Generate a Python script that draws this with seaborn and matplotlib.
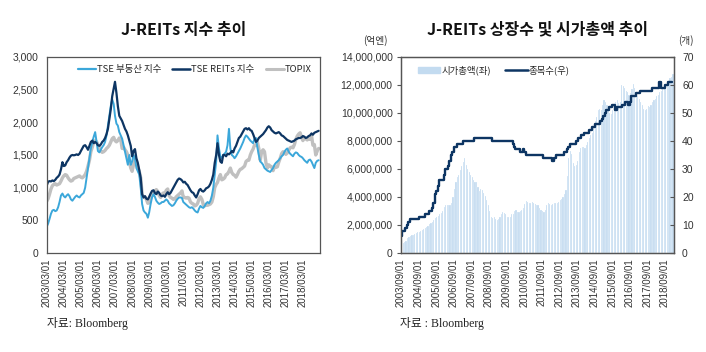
import matplotlib
matplotlib.use("Agg")
from matplotlib import pyplot as plt
import matplotlib.dates as mdates
from matplotlib.ticker import FuncFormatter, MultipleLocator
from matplotlib.lines import Line2D
from matplotlib.patches import Patch
import seaborn as sns
import pandas as pd

# ---- left chart: monthly index levels, 2003/03 - 2019/02 ----
tse_realestate = [
    400, 450, 520, 600, 650, 660, 640, 650, 700, 780,
    880, 910, 870, 850, 880, 900, 870, 820, 800, 830, 860, 880,
    860, 850, 880, 900, 920, 1000, 1150, 1300, 1450, 1600, 1700, 1780,
    1850, 1700, 1560, 1540, 1580, 1620, 1650, 1700, 1800, 1950, 2100, 2250,
    2350, 2280, 2100, 1980, 1950, 1850, 1800, 1750, 1650, 1550, 1450, 1350,
    1500, 1350, 1400, 1500, 1450, 1300, 1250, 1200, 1000, 750, 650, 620,
    600, 540, 620, 750, 850, 900, 860, 800, 770, 750, 760, 780,
    780, 800, 820, 800, 760, 740, 720, 730, 760, 800, 830, 850,
    850, 840, 780, 760, 740, 720, 700, 690, 700, 680, 650, 630,
    620, 680, 720, 700, 690, 720, 760, 780, 760, 800, 880, 1000,
    1200, 1400, 1800, 1600, 1480, 1450, 1500, 1520, 1550, 1650, 1900, 1600,
    1500, 1480, 1450, 1480, 1520, 1560, 1600, 1650, 1700, 1760, 1800, 1780,
    1750, 1720, 1700, 1680, 1750, 1760, 1620, 1500, 1400, 1380, 1350, 1300,
    1280, 1260, 1250, 1240, 1270, 1300, 1350, 1380, 1400, 1420, 1450, 1480,
    1500, 1550, 1580, 1600, 1550, 1520, 1500, 1480, 1520, 1540, 1530, 1500,
    1480, 1470, 1450, 1420, 1400, 1380, 1420, 1430, 1400, 1350, 1300, 1380,
    1410, 1420,
]
tse_reits = [
    1030, 1090, 1100, 1095, 1110, 1100, 1120, 1150, 1170, 1200,
    1280, 1390, 1330, 1340, 1390, 1420, 1460, 1490, 1500, 1495, 1500, 1510,
    1500, 1520, 1560, 1600, 1640, 1650, 1620, 1580, 1640, 1700, 1720, 1680,
    1700, 1680, 1650, 1640, 1660, 1700, 1720, 1760, 1820, 1900, 2050, 2200,
    2400, 2520, 2620, 2450, 2250, 2100, 2060, 2020, 1960, 1900, 1860, 1800,
    1720, 1640, 1480, 1560, 1590, 1450, 1380, 1270, 1150, 900, 850, 870,
    830, 820, 860, 910, 950, 960, 920, 900, 940, 920, 880, 870,
    880, 860, 900, 930, 900, 920, 960, 1000, 1040, 1080, 1120, 1140,
    1130, 1110, 1080, 1090, 1060, 1040, 1000, 960, 930, 920, 880, 850,
    900, 960, 980, 950, 940, 960, 990, 1000, 1020, 1060, 1120, 1200,
    1380, 1500, 1680, 1500, 1400, 1380, 1500, 1500, 1480, 1520, 1510, 1530,
    1560, 1540, 1600, 1640, 1700, 1760, 1780, 1820, 1860, 1900, 1910, 1890,
    1910, 1880, 1870, 1820, 1760, 1700, 1720, 1760, 1780, 1800, 1820, 1850,
    1880, 1920, 1940, 1920, 1880, 1860, 1840, 1830, 1840, 1850, 1830, 1800,
    1790, 1770, 1750, 1730, 1720, 1710, 1700, 1710, 1720, 1740, 1750, 1760,
    1760, 1770, 1790, 1780, 1760, 1770, 1790, 1800, 1830, 1810, 1840, 1850,
    1860, 1870,
]
topix = [
    790, 830, 900, 980, 1030, 1050, 1060, 1040, 1050, 1060,
    1100, 1150, 1180, 1200, 1190, 1150, 1120, 1100, 1110, 1140, 1150, 1160,
    1170, 1180, 1160, 1150, 1170, 1200, 1250, 1330, 1420, 1550, 1620, 1700,
    1720, 1700, 1660, 1620, 1560, 1540, 1550, 1570, 1600, 1620, 1650, 1700,
    1750, 1770, 1720, 1700, 1720, 1760, 1740, 1600, 1620, 1580, 1550, 1500,
    1400, 1300, 1250, 1350, 1450, 1400, 1300, 1250, 1150, 900, 850, 860,
    820, 760, 770, 840, 880, 920, 950, 970, 940, 880, 850, 900,
    920, 900, 960, 980, 880, 850, 840, 820, 830, 860, 880, 900,
    920, 950, 850, 850, 840, 850, 840, 780, 760, 750, 720, 730,
    760, 830, 860, 820, 740, 720, 740, 730, 740, 750, 780, 860,
    1000, 1050, 1080, 1150, 1200, 1120, 1130, 1150, 1200, 1210, 1250, 1300,
    1230, 1200, 1190, 1160, 1200, 1250, 1280, 1290, 1310, 1330, 1400, 1420,
    1420, 1500, 1550, 1590, 1650, 1650, 1700, 1600, 1420, 1550, 1580, 1550,
    1380, 1300, 1350, 1330, 1320, 1260, 1320, 1310, 1320, 1390, 1450, 1520,
    1550, 1540, 1510, 1530, 1570, 1610, 1620, 1610, 1660, 1740, 1790, 1820,
    1840, 1770, 1720, 1760, 1750, 1730, 1750, 1740, 1800, 1650, 1660, 1500,
    1560, 1600,
]

# ---- right chart: monthly, 2003/09 - 2019/02 ----
market_cap = [  # 시가총액, 억엔
    700000, 720000, 750000, 850000,
    1050000, 1150000, 1200000, 1280000, 1300000, 1350000, 1450000, 1500000, 1520000, 1600000, 1650000, 1700000,
    1800000, 1880000, 1950000, 2050000, 2120000, 2200000, 2350000, 2480000, 2550000, 2650000, 2750000, 2850000,
    3000000, 3250000, 3400000, 3450000, 3400000, 3450000, 3600000, 4000000, 4600000, 5100000, 5400000, 5600000,
    5900000, 6200000, 6500000, 6760000, 6300000, 6000000, 5800000, 5600000, 5400000, 5200000, 5100000, 5100000,
    4700000, 4400000, 4600000, 4500000, 4300000, 4100000, 3800000, 3400000, 3000000, 2600000, 2500000, 2600000,
    2400000, 2350000, 2450000, 2600000, 2800000, 2950000, 2850000, 2750000, 2600000, 2550000, 2600000, 2750000,
    2800000, 3000000, 3050000, 2950000, 2900000, 3000000, 3100000, 3200000, 3500000, 3700000, 3650000, 3600000,
    3550000, 3650000, 3600000, 3500000, 3450000, 3400000, 3200000, 3100000, 3000000, 2950000, 3050000, 3400000,
    3550000, 3500000, 3450000, 3500000, 3600000, 3550000, 3600000, 3650000, 3750000, 3850000, 4000000, 4200000,
    4500000, 5500000, 6800000, 7300000, 7100000, 6400000, 6200000, 6300000, 6600000, 7200000, 7500000, 7600000,
    7600000, 7500000, 7700000, 7900000, 8200000, 8400000, 8600000, 8900000, 9400000, 9700000, 10200000, 10300000,
    10200000, 10600000, 10900000, 10800000, 10600000, 10400000, 10000000, 9900000, 10200000, 10500000, 10800000, 10900000,
    10700000, 10800000, 12000000, 11900000, 11800000, 11600000, 11500000, 11300000, 11400000, 11700000, 12100000, 11800000,
    11500000, 11200000, 11000000, 10800000, 10600000, 10300000, 10200000, 10300000, 10500000, 10400000, 10600000, 10800000,
    10900000, 11000000, 11200000, 11300000, 11500000, 11600000, 11800000, 11900000, 12100000, 12200000, 12300000, 12500000,
    12600000, 12800000,
]
num_reits = [  # 종목수, 개
    6, 8, 8, 9,
    10, 11, 12, 12, 12, 12, 12, 12, 13, 13, 13, 13,
    14, 14, 14, 15, 15, 16, 18, 21, 22, 24, 26, 26,
    26, 28, 30, 30, 31, 33, 35, 36, 38, 38, 39, 39,
    39, 39, 40, 40, 40, 40, 40, 40, 40, 40, 41, 41,
    41, 41, 41, 41, 41, 41, 41, 41, 41, 41, 40, 40,
    40, 40, 40, 40, 40, 40, 40, 40, 40, 40, 40, 40,
    39, 38, 37, 37, 37, 36, 36, 37, 36, 35, 35, 35,
    35, 35, 35, 35, 35, 35, 35, 35, 35, 34, 34, 34,
    34, 34, 34, 33, 34, 34, 35, 35, 35, 35, 35, 36,
    36, 37, 38, 39, 39, 39, 39, 40, 40, 41, 41, 42,
    42, 43, 43, 43, 44, 44, 45, 45, 46, 46, 46, 46,
    47, 48, 49, 50, 51, 51, 52, 52, 53, 53, 51, 52,
    52, 52, 52, 53, 53, 54, 54, 53, 54, 56, 56, 56,
    57, 57, 57, 58, 58, 58, 58, 58, 58, 58, 58, 59,
    59, 59, 59, 59, 61, 59, 59, 59, 60, 60, 61, 61,
    61, 61,
]

left_dates = pd.date_range("2003-03-01", periods=len(tse_reits), freq="MS")
right_dates = pd.date_range("2003-09-01", periods=len(num_reits), freq="MS")
left_ticks = pd.date_range("2003-03-01", "2018-03-01", freq="12MS")
right_ticks = pd.date_range("2003-09-01", "2018-09-01", freq="12MS")

df_idx = pd.DataFrame({"date": left_dates, "TSE 부동산 지수": tse_realestate,
                       "TSE REITs 지수": tse_reits, "TOPIX": topix})
df_cap = pd.DataFrame({"date": right_dates, "cap": market_cap, "count": num_reits})

sns.set_theme(style="white")
plt.rcParams["font.family"] = ["Liberation Sans", "Noto Sans CJK KR", "DejaVu Sans"]
plt.rcParams["axes.unicode_minus"] = False

NAVY = "#0d3563"
LBLUE = "#3ba7da"
GREY = "#c0c0c0"
BARC = "#c3dbf0"
SPINE = "#555555"
TXT = "#333333"
cjk = ["Noto Sans CJK KR", "DejaVu Sans"]
src_font = ["Liberation Serif", "Noto Sans CJK KR"]

fig = plt.figure(figsize=(7.06, 3.52), dpi=100)
ax1 = fig.add_axes([0.0661, 0.2813, 0.3871, 0.5568])
ax2 = fig.add_axes([0.568, 0.2813, 0.3863, 0.5568])
ax3 = ax2.twinx()


def style_box(ax):
    for s in ax.spines.values():
        s.set_visible(True)
        s.set_color(SPINE)
        s.set_linewidth(0.9)


# ---- left chart ----
sns.lineplot(data=df_idx, x="date", y="TOPIX", ax=ax1, color=GREY, lw=2.4)
sns.lineplot(data=df_idx, x="date", y="TSE 부동산 지수", ax=ax1, color=LBLUE, lw=1.4)
sns.lineplot(data=df_idx, x="date", y="TSE REITs 지수", ax=ax1, color=NAVY, lw=1.6)
ax1.set_xlim(pd.Timestamp("2003-03-01"), pd.Timestamp("2019-03-01"))
ax1.set_ylim(0, 3000)
ax1.yaxis.set_major_locator(MultipleLocator(500))
ax1.yaxis.set_major_formatter(FuncFormatter(lambda v, p: f"{int(v):,}"))
ax1.set_xticks(left_ticks)
ax1.xaxis.set_major_formatter(mdates.DateFormatter("%Y/%m/%d"))
ax1.set_xlabel("")
ax1.set_ylabel("")
style_box(ax1)
ax1.tick_params(axis="x", direction="in", length=3, width=0.8, color=SPINE,
                labelsize=7, labelcolor=TXT, rotation=90, pad=4)
ax1.tick_params(axis="y", direction="out", length=3, width=0.8, color=SPINE,
                labelsize=7.5, labelcolor=TXT, pad=3)
leg_handles = [Line2D([], [], color=LBLUE, lw=1.6),
               Line2D([], [], color=NAVY, lw=1.8),
               Line2D([], [], color=GREY, lw=2.2)]
ax1.legend(leg_handles, ["TSE 부동산 지수", "TSE REITs 지수", "TOPIX"],
           loc="upper right", ncol=3, frameon=False,
           handlelength=1.9, handletextpad=0.1, columnspacing=1.2,
           bbox_to_anchor=(1.0, 1.0), prop={"family": cjk, "size": 6.8})
ax1.set_title("J-REITs 지수 추이", fontsize=11.5, fontweight="bold",
              family=cjk, pad=16, color="#111111")
fig.text(0.066, 0.07, "자료: Bloomberg", fontsize=8.5, family=src_font, color="#222222")

# ---- right chart ----
ax2.bar(df_cap["date"] + pd.Timedelta(days=14), df_cap["cap"], width=24,
        color=BARC, edgecolor="white", linewidth=0.15, zorder=1)
sns.lineplot(data=df_cap, x="date", y="count", ax=ax3, color=NAVY, lw=1.7,
             drawstyle="steps-post")
ax2.set_xlim(pd.Timestamp("2003-09-01"), pd.Timestamp("2019-03-01"))
ax2.set_ylim(0, 14000000)
ax3.set_ylim(0, 70)
ax2.yaxis.set_major_locator(MultipleLocator(2000000))
ax2.yaxis.set_major_formatter(FuncFormatter(lambda v, p: f"{int(v):,}"))
ax3.yaxis.set_major_locator(MultipleLocator(10))
ax2.set_xticks(right_ticks)
ax2.xaxis.set_major_formatter(mdates.DateFormatter("%Y/%m/%d"))
for a in (ax2, ax3):
    a.set_xlabel("")
    a.set_ylabel("")
    style_box(a)
ax2.tick_params(axis="x", direction="in", length=3, width=0.8, color=SPINE,
                labelsize=7, labelcolor=TXT, rotation=90, pad=4)
ax2.tick_params(axis="y", direction="out", length=3, width=0.8, color=SPINE,
                labelsize=7.5, labelcolor=TXT, pad=3)
ax3.tick_params(axis="y", direction="in", length=3, width=0.8, color=SPINE,
                labelsize=7.5, labelcolor=TXT, pad=6)
ax3.legend([Patch(color=BARC), Line2D([], [], color=NAVY, lw=1.8)],
           ["시가총액(좌)", "종목수(우)"], loc="upper left", ncol=2,
           frameon=False, handlelength=2.4, handletextpad=0.1,
           columnspacing=1.5, bbox_to_anchor=(0.03, 1.0),
           prop={"family": cjk, "size": 6.8})
ax2.set_title("J-REITs 상장수 및 시가총액 추이", fontsize=11.5, fontweight="bold",
              family=cjk, pad=16, color="#111111")
fig.text(0.515, 0.875, "(억엔)", fontsize=7, family=cjk, color=TXT)
fig.text(0.961, 0.875, "(개)", fontsize=7, family=cjk, color=TXT)
fig.text(0.566, 0.07, "자료 : Bloomberg", fontsize=8.5, family=src_font, color="#222222")

fig.savefig("out.png", dpi=100)
